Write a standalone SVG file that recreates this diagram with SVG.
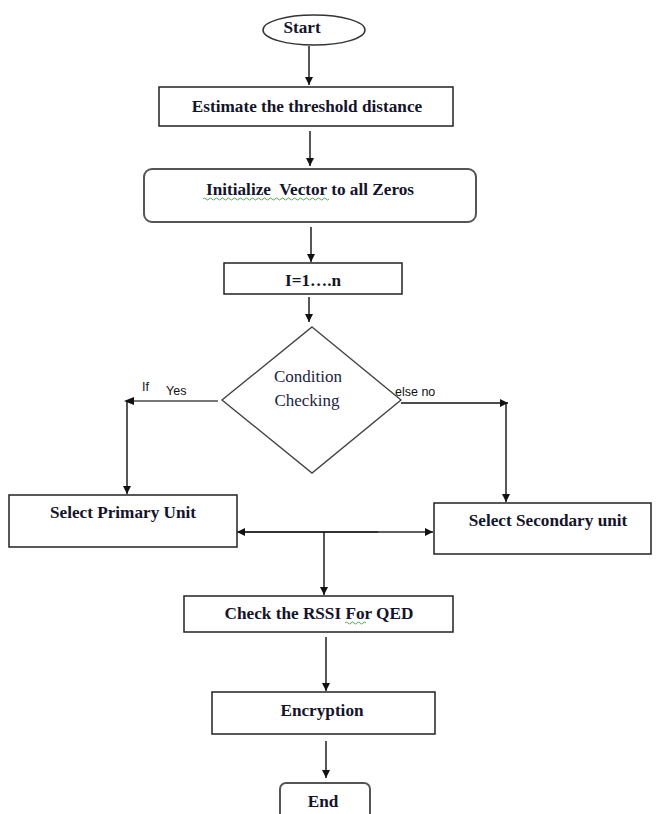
<svg xmlns="http://www.w3.org/2000/svg" width="656" height="814" viewBox="0 0 656 814">
  <style>
    .box { fill: #fff; stroke: #222; stroke-width: 1.5; }
    .rbox { fill: #fff; stroke: #555; stroke-width: 2; }
    .lbl { font-family: "Liberation Serif", "Times New Roman", serif; font-weight: bold; font-size: 17.2px; fill: #14142a; text-anchor: middle; }
    .cond { font-family: "Liberation Serif", "Times New Roman", serif; font-size: 17px; fill: #1c2340; text-anchor: middle; }
    .edge { font-family: "Liberation Sans", Arial, sans-serif; font-size: 12.5px; fill: #111; }
    .wire { fill: none; stroke: #111; stroke-width: 1.4; }
    .wire-grey { fill: none; stroke: #777; stroke-width: 1.8; }
    .squig { fill: none; stroke: #3aa53a; stroke-width: 0.9; }
  </style>
  <defs>
    <marker id="arrow" viewBox="0 0 10 10" refX="10" refY="5" markerWidth="8" markerHeight="8" markerUnits="userSpaceOnUse" orient="auto-start-reverse">
      <path d="M0,0 L10,5 L0,10 z" fill="#111"/>
    </marker>
  </defs>

  <rect width="656" height="814" fill="#fff"/>

  <!-- connectors -->
  <g id="connectors">
    <line class="wire" x1="309" y1="46" x2="309" y2="85" marker-end="url(#arrow)"/>
    <line class="wire" x1="310" y1="131" x2="310" y2="166" marker-end="url(#arrow)"/>
    <line class="wire" x1="311" y1="227" x2="311" y2="262" marker-end="url(#arrow)"/>
    <line class="wire" x1="309" y1="297" x2="309" y2="322" marker-end="url(#arrow)"/>
    <!-- yes branch -->
    <line class="wire-grey" x1="218" y1="401" x2="128" y2="401"/>
    <path d="M134,397 L124,401 L134,405 z" fill="#111"/>
    <line class="wire" x1="127" y1="401" x2="127" y2="494" marker-end="url(#arrow)"/>
    <text class="edge" x="142" y="391">If</text>
    <text class="edge" x="166" y="395">Yes</text>
    <!-- else branch -->
    <line class="wire" x1="401" y1="403" x2="508" y2="403" marker-end="url(#arrow)"/>
    <line class="wire" x1="506" y1="403" x2="506" y2="502" marker-end="url(#arrow)"/>
    <text class="edge" x="395" y="396">else no</text>
    <!-- join -->
    <line class="wire-grey" x1="240" y1="532" x2="378" y2="532"/>
    <line class="wire" x1="237" y1="532" x2="433" y2="532" marker-start="url(#arrow)" marker-end="url(#arrow)" stroke-opacity="0.9"/>
    <line class="wire" x1="324" y1="532" x2="324" y2="595" marker-end="url(#arrow)"/>
    <line class="wire" x1="326" y1="637" x2="326" y2="691" marker-end="url(#arrow)"/>
    <line class="wire" x1="326" y1="741" x2="326" y2="778" marker-end="url(#arrow)"/>
  </g>

  <g id="start">
    <ellipse cx="314" cy="30" rx="51" ry="15" fill="#fff" stroke="#333" stroke-width="1.5"/>
    <text class="lbl" x="302" y="33" font-size="15">Start</text>
  </g>

  <g id="estimate">
    <rect class="box" x="159" y="87" width="294" height="39"/>
    <text class="lbl" x="307" y="112">Estimate the threshold distance</text>
  </g>

  <g id="initialize">
    <rect class="rbox" x="144" y="169" width="332" height="53" rx="8" ry="8"/>
    <text class="lbl" x="310" y="195" style="white-space: pre">Initialize  Vector to all Zeros</text>
    <path class="squig" d="M203,199 q1.5,-2 3,0 t3,0 t3,0 t3,0 t3,0 t3,0 t3,0 t3,0 t3,0 t3,0 t3,0 t3,0 t3,0 t3,0 t3,0 t3,0 t3,0 t3,0 t3,0 t3,0 t3,0 t3,0 t3,0 t3,0 t3,0 t3,0 t3,0 t3,0 t3,0 t3,0 t3,0 t3,0 t3,0 t3,0 t3,0 t3,0 t3,0 t3,0 t3,0 t3,0 t3,0 t3,0"/>
  </g>

  <g id="loop">
    <rect class="box" x="224" y="263" width="178" height="31"/>
    <text class="lbl" x="313" y="286">I=1….n</text>
  </g>

  <g id="condition">
    <polygon points="312,327 401,400 312,473 222,400" fill="#fff" stroke="#444" stroke-width="1.4"/>
    <text class="cond" x="308" y="382">Condition</text>
    <text class="cond" x="307" y="406">Checking</text>
  </g>

  <g id="primary">
    <rect class="box" x="9" y="495" width="228" height="52"/>
    <text class="lbl" x="123" y="518">Select Primary Unit</text>
  </g>

  <g id="secondary">
    <rect class="box" x="434" y="503" width="217" height="51"/>
    <text class="lbl" x="548" y="526">Select Secondary unit</text>
  </g>

  <g id="rssi">
    <rect class="box" x="184" y="596" width="269" height="36"/>
    <text class="lbl" x="319" y="619">Check the RSSI For QED</text>
    <path class="squig" d="M345,623 q1.5,-2 3,0 t3,0 t3,0 t3,0 t3,0 t3,0 t3,0"/>
  </g>

  <g id="encryption">
    <rect class="box" x="212" y="692" width="223" height="42"/>
    <text class="lbl" x="322" y="716">Encryption</text>
  </g>

  <g id="end">
    <rect class="rbox" x="280" y="783" width="90" height="44" rx="6" ry="6"/>
    <text class="lbl" x="323" y="807">End</text>
  </g>
</svg>
